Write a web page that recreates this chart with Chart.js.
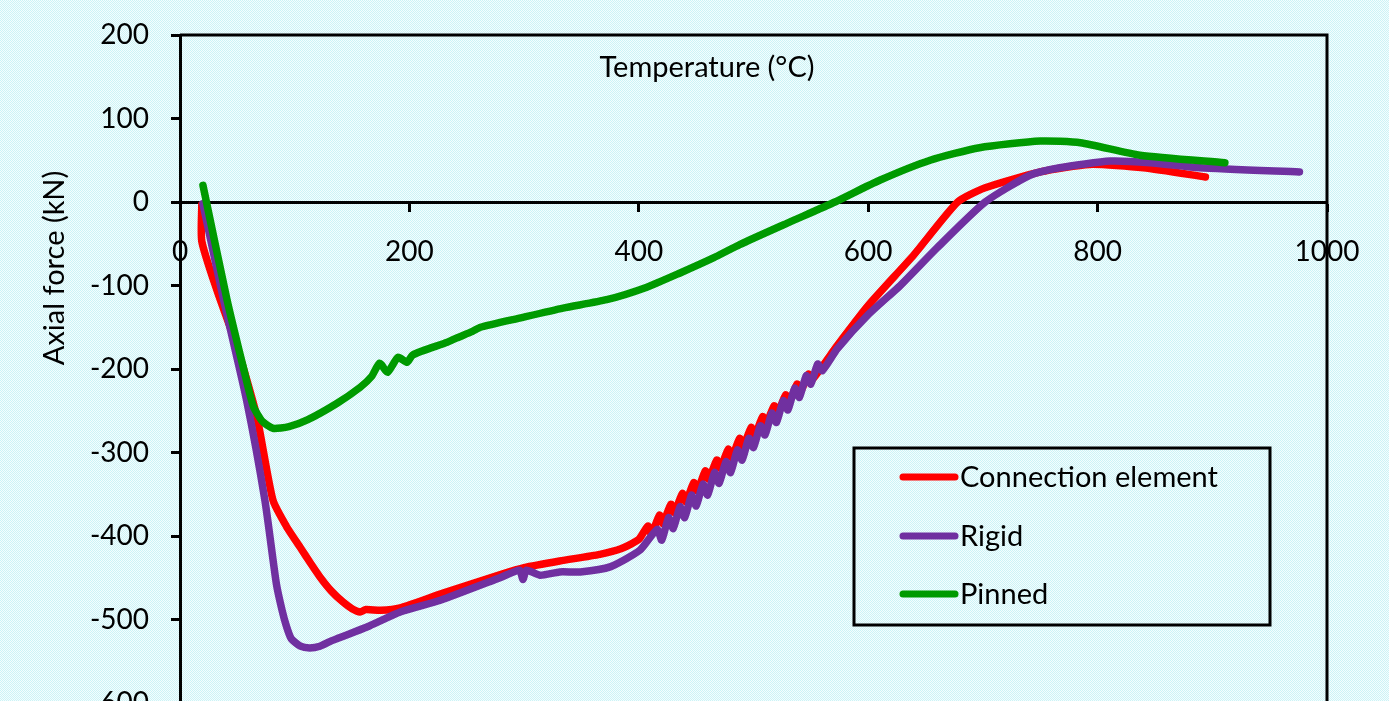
<!DOCTYPE html>
<html lang="en">
<head>
  <meta charset="UTF-8">
  <title>Axial force vs temperature</title>
  <style>
    html, body { margin: 0; padding: 0; overflow: hidden; background: #e0f8fa; }
    #forceChart { display: block; }
  </style>
</head>
<body>
  <canvas id="forceChart" width="1389" height="780"></canvas>

  <script src="https://cdn.jsdelivr.net/npm/chart.js"></script>
  <script>
    // ---- data ----
    const xTicks = [0, 200, 400, 600, 800, 1000];
    const yTicks = [-600, -500, -400, -300, -200, -100, 0, 100, 200];

    const connTemp = [19, 19, 32, 50, 67, 81, 93, 105, 114, 122, 132, 142, 150, 157, 162, 175, 192, 230, 280, 300, 331, 366, 385, 400,
      408, 411, 418, 421, 428, 431, 438, 441, 448, 451, 458, 461, 468, 471, 478, 481, 488, 491, 498, 501,
      508, 511, 518, 521, 528, 531, 538, 541, 548, 551,
      573, 600, 640, 678, 702, 750, 793, 840, 894];
    const connForce = [-3, -47, -105, -175, -257, -357, -389, -414, -433, -449, -466, -479, -487, -491, -488, -489, -486, -468, -446, -438, -430, -422, -415, -404,
      -388, -398, -375, -385, -362, -372, -349, -359, -336, -346, -322, -332, -309, -319, -296, -306, -283, -293, -270, -280,
      -257, -266, -244, -253, -231, -240, -218, -227, -206, -213,
      -172, -124, -63, 0, 17, 36, 45, 41, 30];

    const rigidTemp = [20, 38, 58, 74, 84, 89, 93, 97, 105, 113, 122, 133, 163, 192, 227, 279, 296, 299, 302, 314, 331, 349, 375, 401,
      416, 420, 426, 430, 436, 440, 446, 450, 456, 460, 466, 470, 476, 480, 486, 490, 496, 500,
      506, 510, 516, 520, 526, 530, 536, 540, 546, 550, 556, 560,
      573, 600, 628, 660, 702, 741, 767, 811, 846, 889, 976];
    const rigidForce = [-2, -117, -237, -357, -457, -489, -509, -523, -532, -534, -532, -525, -509, -491, -477, -450, -441, -452, -441, -447, -443, -443, -437, -417,
      -392, -405, -378, -391, -365, -378, -351, -364, -338, -351, -324, -337, -311, -324, -297, -309, -283, -294,
      -268, -279, -253, -264, -238, -249, -223, -234, -208, -218, -194, -202,
      -176, -135, -100, -55, 0, 32, 41, 49, 47, 41, 36];

    const pinnedTemp = [20, 41, 55, 64, 72, 81, 95, 111, 137, 157, 167, 174, 181, 190, 198, 203, 233, 241, 255, 262,
      296, 334, 372, 407, 436, 465, 488, 530, 571, 610, 654, 697, 750, 785, 837, 911];
    const pinnedForce = [20, -117, -197, -245, -263, -271, -269, -261, -241, -222, -209, -193, -204, -186, -192, -183, -168, -163, -155, -150,
      -139, -127, -117, -102, -85, -67, -51, -25, 0, 26, 50, 65, 73, 71, 56, 47];

    const seriesNames = ['Connection element', 'Rigid', 'Pinned'];
    const seriesColors = ['#ff0000', '#7030a0', '#009a00'];

    const FONT = 'Lato, "Open Sans", sans-serif';

    function toPoints(xs, ys) {
      return xs.map((x, i) => ({ x: x, y: ys[i] }));
    }

    // dotted light-cyan paper behind everything
    const tile = document.createElement('canvas');
    tile.width = 2; tile.height = 2;
    const tctx = tile.getContext('2d');
    tctx.fillStyle = '#f4fdfe'; tctx.fillRect(0, 0, 2, 2);
    tctx.fillStyle = '#ccf3f6'; tctx.fillRect(0, 0, 1, 1); tctx.fillRect(1, 1, 1, 1);

    const paperPlugin = {
      id: 'paper',
      beforeDraw(chart) {
        const c = chart.ctx;
        c.save();
        c.fillStyle = c.createPattern(tile, 'repeat');
        c.fillRect(0, 0, chart.width, chart.height);
        c.restore();
      }
    };

    // frame, titles and the boxed legend like the excel sheet
    const framePlugin = {
      id: 'frame',
      beforeDatasetsDraw(chart) {
        const c = chart.ctx, a = chart.chartArea;
        c.save();
        c.strokeStyle = '#000';
        c.lineWidth = 3;
        c.beginPath();
        c.moveTo(a.left, a.top);
        c.lineTo(a.right, a.top);
        c.lineTo(a.right, a.bottom);
        c.stroke();

        c.fillStyle = '#000';
        c.font = '29px ' + FONT;
        c.textAlign = 'center';
        c.textBaseline = 'middle';
        c.fillText('Temperature (\u00B0C)', 707, 68);

        c.translate(55, 268);
        c.rotate(-Math.PI / 2);
        c.fillText('Axial force (kN)', 0, 0);
        c.restore();
      },
      afterDraw(chart) {
        const c = chart.ctx;
        c.save();
        c.strokeStyle = '#000';
        c.lineWidth = 3;
        c.strokeRect(854, 448, 416, 177);
        c.font = '29px ' + FONT;
        c.textAlign = 'left';
        c.textBaseline = 'middle';
        const rows = [477, 536, 594];
        chart.data.datasets.forEach((ds, i) => {
          c.strokeStyle = ds.borderColor;
          c.lineWidth = 7;
          c.lineCap = 'round';
          c.beginPath();
          c.moveTo(903, rows[i]);
          c.lineTo(955, rows[i]);
          c.stroke();
          c.fillStyle = '#000';
          c.fillText(ds.label, 960, rows[i] + 1);
        });
        c.restore();
      }
    };

    const seriesData = [
      toPoints(connTemp, connForce),
      toPoints(rigidTemp, rigidForce),
      toPoints(pinnedTemp, pinnedForce)
    ];

    const ctx = document.getElementById('forceChart').getContext('2d');

    const forceChart = new Chart(ctx, {
      type: 'line',
      data: {
        datasets: seriesNames.map((name, i) => ({
          label: name,
          data: seriesData[i],
          borderColor: seriesColors[i],
          backgroundColor: seriesColors[i],
          borderWidth: 7.5,
          pointRadius: 0,
          tension: 0.2,
          borderCapStyle: 'round',
          borderJoinStyle: 'round',
          fill: false,
          order: 3 - i
        }))
      },
      options: {
        responsive: false,
        animation: false,
        layout: {
          padding: { left: 0, top: 35, right: 62, bottom: 77 }
        },
        plugins: {
          legend: { display: false },
          tooltip: { enabled: false }
        },
        scales: {
          x: {
            type: 'linear',
            position: { y: 0 },
            min: xTicks[0],
            max: xTicks[xTicks.length - 1],
            afterBuildTicks: scale => { scale.ticks = xTicks.map(v => ({ value: v })); },
            afterFit: scale => { scale.height = 0; },
            ticks: {
              color: '#000',
              font: { family: FONT, size: 28 },
              padding: 25,
              maxRotation: 0,
              autoSkip: false,
              callback: v => String(v)
            },
            grid: {
              drawOnChartArea: false,
              tickLength: 8,
              tickColor: '#000',
              tickWidth: 3
            },
            border: { color: '#000', width: 3 }
          },
          y: {
            type: 'linear',
            min: yTicks[0],
            max: yTicks[yTicks.length - 1],
            afterBuildTicks: scale => { scale.ticks = yTicks.map(v => ({ value: v })); },
            afterFit: scale => {
              scale.width = 180;
              scale.paddingTop = 0;
              scale.paddingBottom = 0;
            },
            ticks: {
              color: '#000',
              font: { family: FONT, size: 28 },
              padding: 22,
              autoSkip: false,
              callback: v => String(v)
            },
            grid: {
              drawOnChartArea: false,
              tickLength: 9,
              tickColor: '#000',
              tickWidth: 3
            },
            border: { color: '#000', width: 3 }
          }
        }
      },
      plugins: [paperPlugin, framePlugin]
    });
  </script>
</body>
</html>
